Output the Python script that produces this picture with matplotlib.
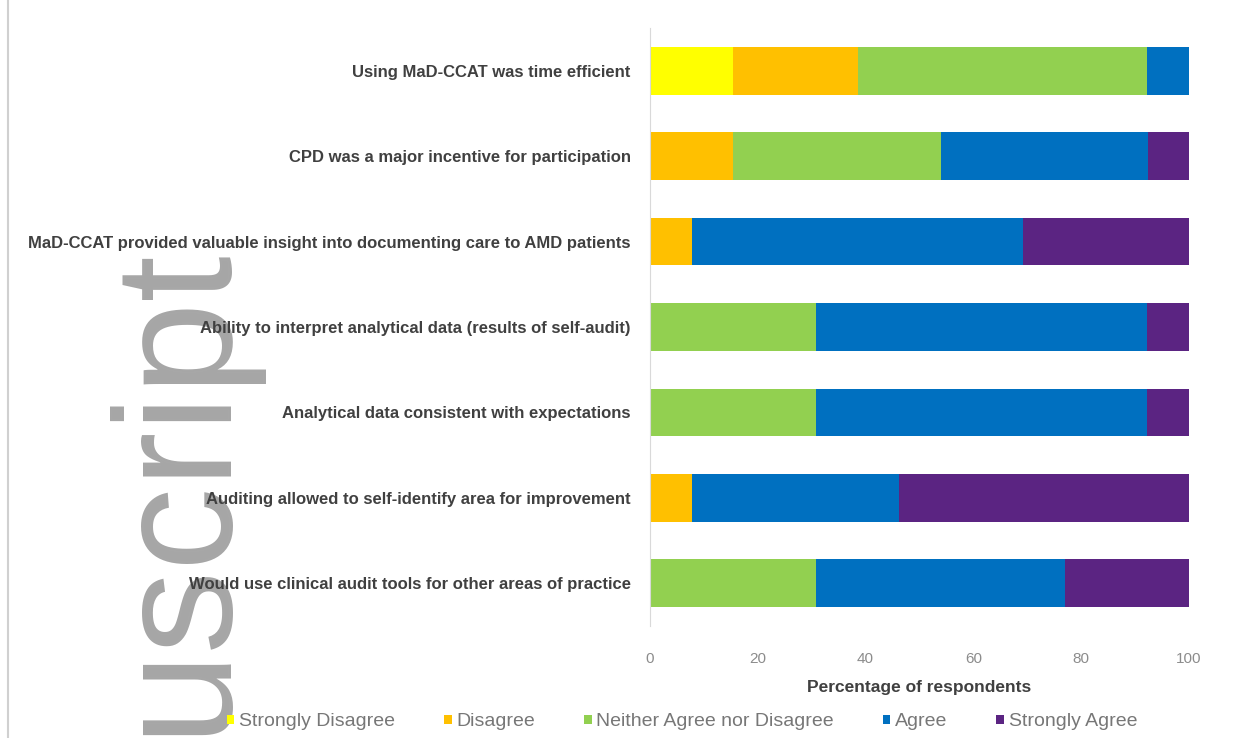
import numpy as np
import matplotlib
matplotlib.use("Agg")
import matplotlib.pyplot as plt
from matplotlib.patches import Patch
from matplotlib.lines import Line2D

plt.rcParams.update({
    "font.family": ["Liberation Sans", "DejaVu Sans"],
    "font.size": 10,
})

# statements, top to bottom as shown
STATEMENTS = [
    "Using MaD-CCAT was time efficient",
    "CPD was a major incentive for participation",
    "MaD-CCAT provided valuable insight into documenting care to AMD patients",
    "Ability to interpret analytical data (results of self-audit)",
    "Analytical data consistent with expectations",
    "Auditing allowed to self-identify area for improvement",
    "Would use clinical audit tools for other areas of practice",
]

RESPONSES = ["Strongly Disagree", "Disagree", "Neither Agree nor Disagree",
             "Agree", "Strongly Agree"]

# percentage of respondents per response level
strongly_disagree = [15.4, 0.0, 0.0, 0.0, 0.0, 0.0, 0.0]
disagree = [23.1, 15.4, 7.7, 0.0, 0.0, 7.7, 0.0]
neutral = [53.8, 38.5, 0.0, 30.8, 30.8, 0.0, 30.8]
agree = [7.7, 38.5, 61.5, 61.5, 61.5, 38.5, 46.2]
strongly_agree = [0.0, 7.7, 30.8, 7.7, 7.7, 53.8, 23.1]

X_TICKS = [0, 20, 40, 60, 80, 100]

COLORS = ["#FFFF00", "#FFC000", "#92D050", "#0070C0", "#5B2482"]

series = [strongly_disagree, disagree, neutral, agree, strongly_agree]

fig = plt.figure(figsize=(12.43, 7.38), dpi=100)
ax = fig.add_axes([650 / 1243, 1 - 626 / 738, 539 / 1243, 598 / 738])
ax.patch.set_alpha(0)

y = np.arange(len(STATEMENTS))
left = np.zeros(len(STATEMENTS))
for vals, color, name in zip(series, COLORS, RESPONSES):
    vals = np.array(vals)
    ax.barh(y, vals, left=left, height=0.56, color=color, label=name, zorder=2)
    left += vals

ax.set_ylim(len(STATEMENTS) - 0.5, -0.5)
ax.set_xlim(0, 100)
ax.set_yticks(y)
ax.set_yticklabels(STATEMENTS, fontweight="bold", color="#404040", fontsize=12)
ax.set_xticks(X_TICKS)
ax.set_xticklabels([str(t) for t in X_TICKS], color="#8c8c8c", fontsize=11)
ax.tick_params(axis="y", length=0, pad=14)
ax.tick_params(axis="x", length=0, pad=19)
ax.set_xlabel("Percentage of respondents", fontweight="bold", color="#404040",
              fontsize=12.5, labelpad=10)
for s in ["top", "right", "bottom"]:
    ax.spines[s].set_visible(False)
ax.spines["left"].set_color("#d9d9d9")

handles = [Patch(facecolor=c, edgecolor="none") for c in COLORS]
fig.legend(handles, RESPONSES, loc="center", bbox_to_anchor=(682 / 1243, 1 - 722 / 738),
           ncol=5, frameon=False, fontsize=14, labelcolor="#777777",
           handlelength=0.4, handleheight=0.4, handletextpad=0.25,
           columnspacing=2.5)

# journal watermark (behind the labels) and page border
fig.text(221 / 1243, 3 / 738, "uscript", rotation=90, rotation_mode="anchor",
         ha="left", va="baseline", fontsize=120, color="#a6a6a6", zorder=-1)
fig.add_artist(Line2D([8 / 1243, 8 / 1243], [0, 1], color="#d0d0d0", linewidth=1.5))

fig.savefig("out.png", dpi=100)
